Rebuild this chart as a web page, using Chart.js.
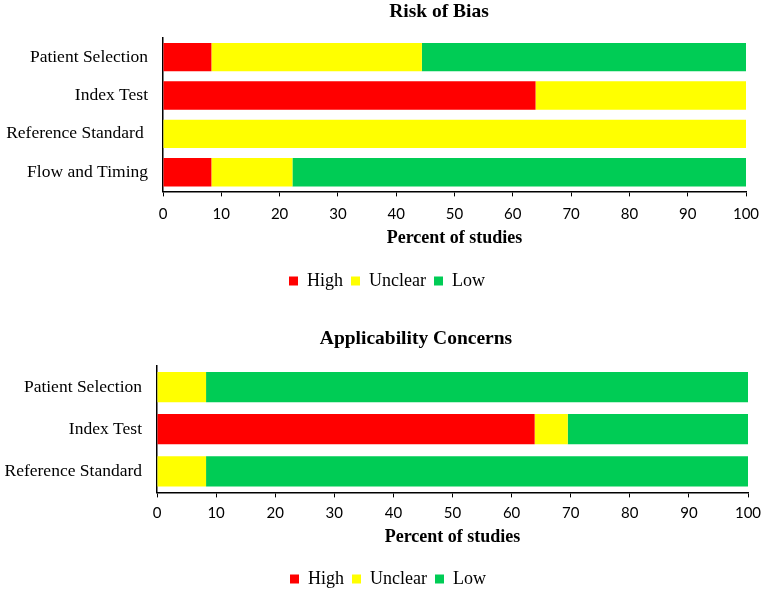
<!DOCTYPE html>
<html>
<head>
<meta charset="utf-8">
<script src="https://cdn.jsdelivr.net/npm/chart.js@4"></script>
<style>
html,body{margin:0;padding:0;background:#fff;overflow:hidden;}
#wrap{position:relative;width:762px;height:592px;overflow:hidden;}
canvas{position:absolute;left:0;}
#c1{top:0;}
#c2{top:300px;}
.ttl{position:absolute;font-family:"Liberation Serif","Times New Roman",serif;font-weight:bold;font-size:19.5px;color:#000;white-space:nowrap;transform:translateX(-50%);line-height:22px;}
</style>
</head>
<body>
<div id="wrap">
<canvas id="c1" width="762" height="300"></canvas>
<canvas id="c2" width="762" height="300"></canvas>
<div class="ttl" style="left:439px;top:0px;">Risk of Bias</div>
<div class="ttl" style="left:416px;top:327px;">Applicability Concerns</div>
</div>
<script>
// Risk of Bias
const riskCategories = ['Patient Selection', 'Index Test', 'Reference Standard ', 'Flow and Timing'];
const riskHigh    = [8.3, 63.9, 0, 8.3];
const riskUnclear = [36.1, 36.1, 100, 13.9];
const riskLow     = [55.6, 0, 0, 77.8];

// Applicability Concerns
const applCategories = ['Patient Selection', 'Index Test', 'Reference Standard'];
const applHigh    = [0, 63.9, 0];
const applUnclear = [8.3, 5.6, 8.3];
const applLow     = [91.7, 30.6, 91.7];

const xTicks = [0, 10, 20, 30, 40, 50, 60, 70, 80, 90, 100];
const seriesNames = ['High', 'Unclear', 'Low'];
const colors = ['#FF0000', '#FFFF00', '#00CC55'];

const SERIF = '"Liberation Serif", "Times New Roman", serif';

function makeChart(canvas, cats, high, unclear, low, opt) {
  const vals = [high, unclear, low];
  return new Chart(canvas, {
    type: 'bar',
    data: {
      labels: cats,
      datasets: seriesNames.map((n, i) => ({
        label: n,
        data: vals[i],
        backgroundColor: colors[i],
        borderWidth: 0,
        barPercentage: opt.barPct,
        categoryPercentage: 1.0
      }))
    },
    plugins: [{
      id: 'legendShift',
      afterLayout(chart) {
        const lg = chart.legend;
        if (lg) { lg.left += opt.legendShift; lg.right += opt.legendShift; }
      }
    }],
    options: {
      indexAxis: 'y',
      responsive: false,
      animation: false,
      layout: { padding: opt.padding },
      plugins: {
        title: { display: false },
        legend: {
          position: 'bottom',
          labels: {
            color: '#000',
            boxWidth: 9,
            boxHeight: 9,
            padding: 8,
            font: { family: SERIF, size: 18 }
          }
        },
        tooltip: { enabled: false }
      },
      scales: {
        x: {
          stacked: true,
          min: 0,
          max: 100,
          afterBuildTicks: (s) => { s.ticks = xTicks.map(v => ({ value: v })); },
          afterFit: (s) => { s.height = opt.xHeight; s.paddingLeft = 0; s.paddingRight = 0; },
          ticks: {
            color: '#000',
            font: { family: 'Lato, "Liberation Sans", sans-serif', size: 15 },
            padding: opt.xTickPad,
            maxRotation: 0
          },
          grid: { display: true, drawOnChartArea: false, drawTicks: true, tickLength: 5, color: '#000', lineWidth: 1 },
          border: { display: true, color: '#000', width: 1.5 },
          title: {
            display: true,
            text: 'Percent of studies',
            color: '#000',
            font: { family: SERIF, size: 18, weight: 'bold' },
            padding: { top: 0, bottom: opt.xTitleBottom }
          }
        },
        y: {
          stacked: true,
          afterFit: (s) => { s.width = opt.yWidth; },
          ticks: {
            color: '#000',
            font: { family: SERIF, size: 17.5 },
            padding: 15
          },
          grid: { display: false, drawTicks: false },
          border: { display: true, color: '#000', width: 1.5 }
        }
      }
    }
  });
}

makeChart(document.getElementById('c1'), riskCategories, riskHigh, riskUnclear, riskLow, {
  barPct: 0.74,
  padding: { left: 4, right: 16, top: 38, bottom: 0 },
  yWidth: 159,
  xHeight: 72.6,
  xTickPad: 9,
  xTitleBottom: 15,
  legendShift: 12
});
makeChart(document.getElementById('c2'), applCategories, applHigh, applUnclear, applLow, {
  barPct: 0.72,
  padding: { left: 2, right: 14, top: 66, bottom: 2 },
  yWidth: 155,
  xHeight: 69.6,
  xTickPad: 7,
  xTitleBottom: 14,
  legendShift: 13
});
</script>
</body>
</html>
